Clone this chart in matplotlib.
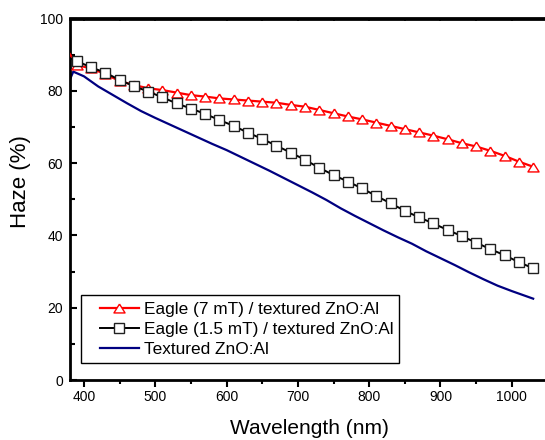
import matplotlib
matplotlib.use("Agg")
import matplotlib.pyplot as plt
from matplotlib.ticker import MultipleLocator
from matplotlib.lines import Line2D
from matplotlib.legend_handler import HandlerLine2D

plt.rcParams['font.family'] = ['Liberation Sans', 'DejaVu Sans']

# ---- data ----
wl_markers = [380, 390, 410, 430, 450, 470, 490, 510, 530, 550, 570, 590, 610, 630, 650,
              670, 690, 710, 730, 750, 770, 790, 810, 830, 850, 870, 890, 910, 930,
              950, 970, 990, 1010, 1030]
haze_7mT = [90.2, 87.1, 86.2, 84.6, 82.7, 81.6, 80.7, 80.2, 79.5, 78.8, 78.4, 77.9, 77.6,
            77.3, 77.0, 76.7, 76.1, 75.6, 74.7, 73.8, 72.9, 72.1, 71.2, 70.3, 69.4,
            68.5, 67.6, 66.6, 65.5, 64.6, 63.4, 62.0, 60.4, 59.0]
haze_15mT = [89.0, 88.2, 86.5, 85.0, 83.0, 81.3, 79.8, 78.2, 76.5, 75.1, 73.6, 71.9, 70.3,
             68.4, 66.7, 64.8, 62.9, 60.9, 58.7, 56.7, 54.9, 53.0, 50.9, 48.9, 46.8,
             45.0, 43.3, 41.5, 39.8, 38.0, 36.2, 34.5, 32.6, 30.9]
wl_ref = [380, 385, 400, 420, 440, 460, 480, 500, 520, 540, 560, 580, 600, 620, 640, 660,
          680, 700, 720, 740, 760, 780, 800, 820, 840, 860, 880, 900, 920, 940, 960,
          980, 1000, 1020, 1030]
haze_ref = [83.0, 85.3, 84.0, 81.2, 78.9, 76.6, 74.4, 72.5, 70.7, 68.9, 67.1, 65.3, 63.6,
            61.7, 59.8, 57.9, 55.9, 53.9, 51.9, 49.8, 47.5, 45.4, 43.4, 41.4, 39.5,
            37.7, 35.6, 33.7, 31.8, 29.8, 27.9, 26.1, 24.6, 23.2, 22.5]
labels = ["Eagle (7 mT) / textured ZnO:Al", "Eagle (1.5 mT) / textured ZnO:Al", "Textured ZnO:Al"]

tri = [(0, 0.8), (-1, -0.8), (1, -0.8), (0, 0.8)]

fig = plt.figure(figsize=(5.45, 4.40), dpi=100)
ax = fig.add_axes([70/545, 1-380/440, 475/545, 361.5/440])

ax.plot(wl_markers, haze_7mT, color='#ff0000', lw=1.6, marker=tri, markersize=8,
        markerfacecolor='white', markeredgecolor='#ff0000', markeredgewidth=1.0,
        markevery=slice(1, None), label=labels[0], zorder=3)
ax.plot(wl_markers, haze_15mT, color='black', lw=1.4, marker='s', markersize=6.5,
        markerfacecolor='white', markeredgecolor='#202020', markeredgewidth=1.0,
        markevery=slice(1, None), label=labels[1], zorder=4)
ax.plot(wl_ref, haze_ref, color='#000080', lw=1.6, label=labels[2], zorder=2)

ax.set_xlim(380.4, 1046.6)
ax.set_ylim(0, 100)
ax.xaxis.set_major_locator(MultipleLocator(100))
ax.xaxis.set_minor_locator(MultipleLocator(50))
ax.yaxis.set_major_locator(MultipleLocator(20))
ax.yaxis.set_minor_locator(MultipleLocator(10))

for s in ['left', 'bottom', 'top']:
    ax.spines[s].set_linewidth(2.0)
ax.spines['right'].set_visible(False)

ax.tick_params(axis='x', which='major', direction='out', length=5, width=1.5,
               labelsize=10, pad=2, top=False)
ax.tick_params(axis='x', which='minor', direction='out', length=3, width=1.5, top=False)
ax.tick_params(axis='y', which='major', direction='in', length=5, width=1.5,
               labelsize=10, pad=5)
ax.tick_params(axis='y', which='minor', direction='in', length=3.5, width=1.5)

axt = ax.secondary_xaxis('top')
axt.xaxis.set_major_locator(MultipleLocator(100))
axt.xaxis.set_minor_locator(MultipleLocator(50))
axt.tick_params(which='both', direction='in', length=2.5, width=1.2, labeltop=False)
axt.spines['top'].set_linewidth(2.0)

ax.set_xlabel("Wavelength (nm)", fontsize=15)
ax.set_ylabel("Haze (%)", fontsize=16)
ax.xaxis.set_label_coords(0.505, -0.133)
ax.yaxis.set_label_coords(-0.105, 0.548)
ax.xaxis.label.set_va('center')
ax.yaxis.label.set_va('center')

leg = ax.legend(loc='lower left', bbox_to_anchor=(0.023, 0.047), fontsize=12.4,
                frameon=True, fancybox=False, edgecolor='black', framealpha=1,
                handlelength=3.0, handletextpad=0.3, labelspacing=0.3,
                borderpad=0.35, borderaxespad=0,
                handler_map={Line2D: HandlerLine2D(xpad=0.75)})
leg.get_frame().set_linewidth(1.0)

fig.savefig("out.png", dpi=100)
